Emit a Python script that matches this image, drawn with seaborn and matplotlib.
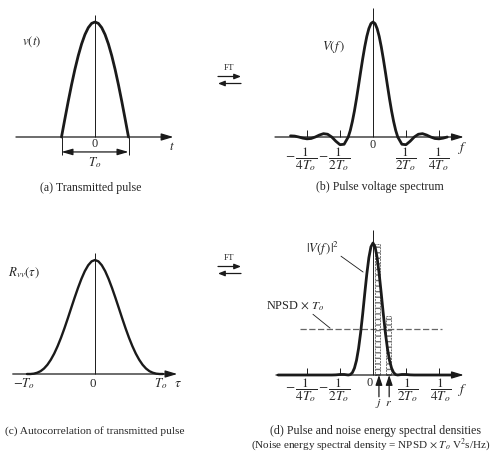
import matplotlib
matplotlib.use("Agg")
import matplotlib.pyplot as plt
import seaborn as sns
import pandas as pd

# ---------------- data ----------------
# (a) transmitted pulse, t in units of T_o
pulse_t = [-0.5, -0.45, -0.4, -0.35, -0.3, -0.25, -0.2, -0.15, -0.1, -0.05, 0.0,
           0.05, 0.1, 0.15, 0.2, 0.25, 0.3, 0.35, 0.4, 0.45, 0.5]
pulse_v = [0.0, 0.156, 0.309, 0.454, 0.588, 0.707, 0.809, 0.891, 0.951, 0.988, 1.0,
           0.988, 0.951, 0.891, 0.809, 0.707, 0.588, 0.454, 0.309, 0.156, 0.0]

# (b) pulse voltage spectrum, f in units of 1/T_o
spec_f = [-5.0, -4.75, -4.5, -4.25, -4.0, -3.75, -3.5, -3.25, -3.0, -2.75, -2.5, -2.25,
          -2.0, -1.75, -1.5, -1.375, -1.25, -1.125, -1.0, -0.875, -0.75, -0.625, -0.5,
          -0.375, -0.25, -0.125, 0.0, 0.125, 0.25, 0.375, 0.5, 0.625, 0.75, 0.875, 1.0,
          1.125, 1.25, 1.375, 1.5, 1.75, 2.0, 2.25, 2.5, 2.75, 3.0, 3.25, 3.5, 3.75, 4.0,
          4.25, 4.5]
spec_v = [0.010, 0.008, 0.0, -0.010, -0.016, -0.013, 0.0, 0.017, 0.029, 0.024, 0.0, -0.037,
          -0.067, -0.063, 0.0, 0.058, 0.135, 0.227, 0.333, 0.448, 0.566, 0.680, 0.785,
          0.875, 0.943, 0.986, 1.0, 0.986, 0.943, 0.875, 0.785, 0.680, 0.566, 0.448, 0.333,
          0.227, 0.135, 0.058, 0.0, -0.063, -0.067, -0.037, 0.0, 0.024, 0.029, 0.017, 0.0,
          -0.013, -0.016, -0.010, 0.0]
spec_ticks = [-4, -2, 2, 4]
spec_tick_labels = [r"$-\,\dfrac{1}{4T_o}$", r"$-\,\dfrac{1}{2T_o}$",
                    r"$\dfrac{1}{2T_o}$", r"$\dfrac{1}{4T_o}$"]

# (c) autocorrelation, tau in units of T_o
acorr_tau = [-1.0, -0.95, -0.9, -0.85, -0.8, -0.75, -0.7, -0.65, -0.6, -0.55, -0.5,
             -0.45, -0.4, -0.35, -0.3, -0.25, -0.2, -0.15, -0.1, -0.05, 0.0,
             0.05, 0.1, 0.15, 0.2, 0.25, 0.3, 0.35, 0.4, 0.45, 0.5,
             0.55, 0.6, 0.65, 0.7, 0.75, 0.8, 0.85, 0.9, 0.95, 1.0]
acorr_r = [0.0, 0.0, 0.003, 0.011, 0.025, 0.048, 0.081, 0.125, 0.179, 0.244, 0.318,
           0.400, 0.488, 0.579, 0.669, 0.755, 0.834, 0.902, 0.954, 0.988, 1.0,
           0.988, 0.954, 0.902, 0.834, 0.755, 0.669, 0.579, 0.488, 0.400, 0.318,
           0.244, 0.179, 0.125, 0.081, 0.048, 0.025, 0.011, 0.003, 0.0, 0.0]
acorr_ticks = [-1, 0, 1]
acorr_tick_labels = [r"$-T_o$", "0", r"$T_o$"]

# (d) energy spectral density |V(f)|^2
esd_f = [-5.75, -2.5, -2.25, -2.0, -1.75, -1.5, -1.375, -1.25, -1.125, -1.0, -0.875,
         -0.75, -0.625, -0.5, -0.375, -0.25, -0.125, 0.0, 0.125, 0.25, 0.375, 0.5,
         0.625, 0.75, 0.875, 1.0, 1.125, 1.25, 1.375, 1.5, 1.75, 2.0, 2.25, 2.5, 4.75]
esd_v = [0.0, 0.0, 0.001, 0.004, 0.004, 0.0, 0.003, 0.018, 0.052, 0.111, 0.201,
         0.320, 0.462, 0.617, 0.765, 0.889, 0.971, 1.0, 0.971, 0.889, 0.765, 0.617,
         0.462, 0.320, 0.201, 0.111, 0.052, 0.018, 0.003, 0.0, 0.004, 0.004, 0.001, 0.0, 0.0]
npsd_level = 0.35
npsd_span = [-4.4, 4.2]
bin_left = [0.15, 0.80]
bin_right = [0.45, 1.12]
bin_top = [0.99, 0.45]
bin_names = ["j", "r"]
bin_marks = [0.36, 0.98]

# ---------------- style ----------------
sns.set_theme(style="white")
plt.rcParams["font.family"] = ["Liberation Serif", "DejaVu Serif"]
plt.rcParams["mathtext.fontset"] = "stix"

W, H = 495, 453
fig = plt.figure(figsize=(W / 100, H / 100), dpi=100)
fig.patch.set_facecolor("white")

CURVE_LW = 2.0
AX_LW = 0.9
FS = 8.8
CAP = 8.6
FRAC = 9.6


def panel(rect, xmap, ymap):
    l, t, r, b = rect
    ax = fig.add_axes([l / W, 1 - b / H, (r - l) / W, (b - t) / H])
    xd0, px0, xd1, px1 = xmap
    sx = (xd1 - xd0) / (px1 - px0)
    yd0, py0, yd1, py1 = ymap
    sy = (yd1 - yd0) / (py1 - py0)
    lims = ((xd0 + (l - px0) * sx, xd0 + (r - px0) * sx),
            (yd0 + (b - py0) * sy, yd0 + (t - py0) * sy))
    ax.set_axis_off()
    return ax, lims


def finish(ax, lims):
    ax.set_xlim(*lims[0])
    ax.set_ylim(*lims[1])
    ax.set_axis_off()
    if ax.get_legend() is not None:
        ax.get_legend().remove()


def axis_arrow(ax, x0, x1):
    ax.annotate("", xy=(x1, 0), xytext=(x0, 0),
                arrowprops=dict(arrowstyle="-|>,head_length=0.6,head_width=0.18",
                                lw=AX_LW, color="k", shrinkA=0, shrinkB=0),
                annotation_clip=False)


def ftext(x, y, s, **kw):
    kw.setdefault("fontsize", FS)
    kw.setdefault("ha", "center")
    kw.setdefault("va", "center")
    fig.text(x / W, 1 - y / H, s, **kw)


def ft_arrows(xc, y):
    ftext(xc, y, "FT", fontsize=6.5)
    for yy, (a, b) in ((y + 8.5, (xc - 11, xc + 12)), (y + 15.5, (xc + 12, xc - 11))):
        fig.add_artist(matplotlib.patches.FancyArrowPatch(
            (a / W, 1 - yy / H), (b / W, 1 - yy / H), transform=fig.transFigure,
            arrowstyle="-|>,head_length=4,head_width=1.6", lw=0.9, color="k",
            shrinkA=0, shrinkB=0))


# ---------------- (a) transmitted pulse ----------------
axA, limA = panel((0, 0, 200, 180), (0, 95, 0.5, 128.5), (0, 137, 1, 22))
sns.lineplot(data=pd.DataFrame({"t": pulse_t, "v": pulse_v}), x="t", y="v",
             ax=axA, color="k", lw=CURVE_LW, sort=False)
axis_arrow(axA, -1.18, 1.17)
axA.vlines(0, 0, 1.06, colors="k", lw=0.7)
axA.vlines([pulse_t[0], pulse_t[-1]], -0.16, 0, colors="k", lw=0.7)
axA.annotate("", xy=(pulse_t[0], -0.13), xytext=(pulse_t[-1], -0.13),
             arrowprops=dict(arrowstyle="<|-|>,head_length=0.55,head_width=0.16",
                             lw=0.9, color="k", shrinkA=0, shrinkB=0))
axA.text(0, -0.062, "0", ha="center", va="center", fontsize=FS)
axA.text(0, -0.225, r"$T_o$", ha="center", va="center", fontsize=FS + 0.5)
axA.text(1.15, -0.09, r"$t$", ha="center", va="center", fontsize=FS + 0.5)
axA.text(-0.94, 0.83, r"$v(t)$", ha="center", va="center", fontsize=FS + 0.5)
finish(axA, limA)
ftext(91, 188, "(a) Transmitted pulse", fontsize=CAP)

# ---------------- (b) pulse voltage spectrum ----------------
axB, limB = panel((250, 0, 485, 180), (0, 373, 2, 406), (0, 137, 1, 22))
sns.lineplot(data=pd.DataFrame({"f": spec_f, "V": spec_v}), x="f", y="V",
             ax=axB, color="k", lw=CURVE_LW)
axis_arrow(axB, -5.94, 5.5)
axB.vlines(0, 0, 1.12, colors="k", lw=0.7)
axB.vlines(spec_ticks, 0, 0.06, colors="k", lw=0.7)
for xt, lab in zip(spec_ticks, spec_tick_labels):
    off = -0.38 if xt < 0 else 0.0
    axB.text(xt + off, -0.19, lab, ha="center", va="center", fontsize=FRAC)
axB.text(0, -0.07, "0", ha="center", va="center", fontsize=FS)
axB.text(5.4, -0.095, r"$f$", ha="center", va="center", fontsize=FS + 1)
axB.text(-2.4, 0.78, r"$V(f\,)$", ha="center", va="center", fontsize=FS + 0.5)
finish(axB, limB)
ftext(380, 187, "(b) Pulse voltage spectrum", fontsize=CAP)

ft_arrows(229, 68)

# ---------------- (c) autocorrelation ----------------
axC, limC = panel((0, 230, 200, 410), (0, 95, 1, 163), (0, 374, 1, 260))
sns.lineplot(data=pd.DataFrame({"tau": acorr_tau, "R": acorr_r}), x="tau", y="R",
             ax=axC, color="k", lw=1.7)
axis_arrow(axC, -1.21, 1.21)
axC.vlines(0, 0, 1.06, colors="k", lw=0.7)
for xt, lab in zip(acorr_ticks, acorr_tick_labels):
    axC.text(xt - (0.04 if xt < 0 else 0.03), -0.085, lab, ha="center", va="center",
             fontsize=FS + 0.5)
axC.text(1.22, -0.08, r"$\tau$", ha="center", va="center", fontsize=FS + 1)
axC.text(-1.05, 0.885, r"$R_{vv}(\tau)$", ha="center", va="center", fontsize=FS + 0.5)
finish(axC, limC)
ftext(95, 431, "(c) Autocorrelation of transmitted pulse", fontsize=8.2)

ft_arrows(229, 258)

# ---------------- (d) energy spectral densities ----------------
axD, limD = panel((250, 228, 485, 420), (0, 373, 2, 406), (0, 375, 1, 243))
for lft, rgt, top in zip(bin_left, bin_right, bin_top):
    axD.bar((lft + rgt) / 2, top, width=rgt - lft, fill=False, edgecolor="0.45",
            linestyle=(0, (2, 1)), lw=0.7, hatch="---")
axD.hlines(npsd_level, npsd_span[0], npsd_span[1], colors="0.4",
           linestyles=(0, (5, 2)), lw=0.9)
sns.lineplot(data=pd.DataFrame({"f": esd_f, "E": esd_v}), x="f", y="E",
             ax=axD, color="k", lw=CURVE_LW)
axis_arrow(axD, -5.88, 5.5)
axD.vlines(0, 0, 1.1, colors="k", lw=0.7)
axD.vlines(spec_ticks, 0, 0.053, colors="k", lw=0.7)
for xt, lab in zip(spec_ticks, spec_tick_labels):
    off = -0.38 if xt < 0 else 0.12
    axD.text(xt + off, -0.115, lab, ha="center", va="center", fontsize=FRAC)
axD.text(-0.2, -0.06, "0", ha="center", va="center", fontsize=FS)
axD.text(5.4, -0.11, r"$f$", ha="center", va="center", fontsize=FS + 1)
for xm, nm in zip(bin_marks, bin_names):
    axD.annotate("", xy=(xm, 0), xytext=(xm, -0.165),
                 arrowprops=dict(arrowstyle="-|>,head_length=0.5,head_width=0.17",
                                 lw=0.9, color="k", shrinkA=0, shrinkB=0))
    axD.text(xm - 0.05, -0.215, f"${nm}$", ha="center", va="center", fontsize=FS)
axD.text(-3.05, 0.955, r"$|V(f\,)|^2$", ha="center", va="center", fontsize=FS + 0.5)
axD.plot([-1.94, -0.6], [0.90, 0.78], color="k", lw=0.6)
axD.text(-4.7, 0.52, r"NPSD$\,\times\,T_o$", ha="center", va="center", fontsize=FS)
axD.plot([-3.64, -2.6], [0.46, 0.355], color="k", lw=0.6)
finish(axD, limD)
ftext(375, 431, "(d) Pulse and noise energy spectral densities", fontsize=CAP)
ftext(490, 444.5, r"(Noise energy spectral density = NPSD $\times$ $T_o$ V$^2$s/Hz)",
      fontsize=8.0, ha="right")

fig.savefig("out.png", dpi=100, facecolor="white")
